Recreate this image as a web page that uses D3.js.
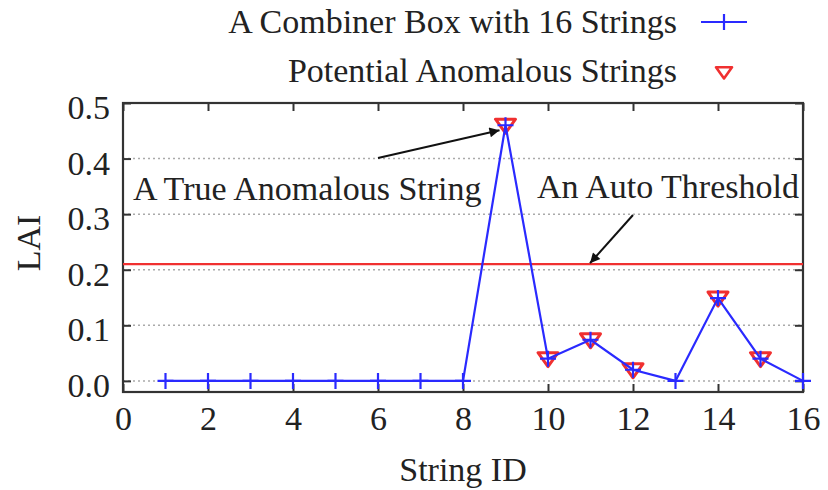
<!DOCTYPE html>
<html>
<head>
<meta charset="utf-8">
<script src="https://cdn.jsdelivr.net/npm/d3@7"></script>
<style>
  html, body { margin: 0; padding: 0; background: #fff; }
  svg { display: block; font-family: "Liberation Serif", "DejaVu Serif", serif; }
</style>
</head>
<body>
<svg id="chart" width="828" height="490"></svg>
<script>
// String IDs and their LAI values for one combiner box
const stringIds = [1, 2, 3, 4, 5, 6, 7, 8, 9, 10, 11, 12, 13, 14, 15, 16];
const laiValues = [0, 0, 0, 0, 0, 0, 0, 0, 0.46, 0.04, 0.074, 0.02, 0.0, 0.149, 0.04, 0.0];
// Strings flagged as potentially anomalous
const anomalousIds = [9, 10, 11, 12, 14, 15];
// Automatically derived threshold
const autoThreshold = 0.21;
// Axis ticks
const xTicks = [0, 2, 4, 6, 8, 10, 12, 14, 16];
const yTicks = [0.0, 0.1, 0.2, 0.3, 0.4, 0.5];

const svg = d3.select("#chart");
const plotLeft = 123, plotRight = 803, plotTop = 103, plotBottom = 392;

const x = d3.scaleLinear().domain([0, 16]).range([plotLeft, plotRight]);
const y = d3.scaleLinear().domain([-0.02, 0.5]).range([plotBottom, plotTop]);

const textColor = "#222";
const fontSize = 34;
const blue = "#2a2aff", red = "#f03030";

// Horizontal dotted grid
svg.append("g").selectAll("line").data(yTicks).join("line")
  .attr("x1", plotLeft).attr("x2", plotRight)
  .attr("y1", d => y(d)).attr("y2", d => y(d))
  .attr("stroke", "#aaa").attr("stroke-width", 1.5)
  .attr("stroke-dasharray", "2,3");

// Axes with inward ticks on all four sides
const tickLen = 8;
const axB = svg.append("g").attr("transform", `translate(0,${plotBottom})`)
  .call(d3.axisBottom(x).tickValues(xTicks).tickSize(-tickLen).tickPadding(14).tickFormat(d3.format("d")));
const axT = svg.append("g").attr("transform", `translate(0,${plotTop})`)
  .call(d3.axisTop(x).tickValues(xTicks).tickSize(-tickLen).tickFormat(""));
const axL = svg.append("g").attr("transform", `translate(${plotLeft},0)`)
  .call(d3.axisLeft(y).tickValues(yTicks).tickSize(-tickLen).tickPadding(13).tickFormat(d3.format(".1f")));
const axR = svg.append("g").attr("transform", `translate(${plotRight},0)`)
  .call(d3.axisRight(y).tickValues(yTicks).tickSize(-tickLen).tickFormat(""));

[axB, axT, axL, axR].forEach(g => {
  g.select(".domain").remove();
  g.selectAll(".tick line").attr("stroke", "#333").attr("stroke-width", 2);
  g.selectAll(".tick text")
    .attr("font-family", "Liberation Serif, serif")
    .attr("font-size", fontSize).attr("fill", textColor);
});
axL.selectAll(".tick text").attr("dy", "0.46em");
axB.selectAll(".tick text").attr("dy", "0.71em");

// Frame
svg.append("rect")
  .attr("x", plotLeft).attr("y", plotTop)
  .attr("width", plotRight - plotLeft).attr("height", plotBottom - plotTop)
  .attr("fill", "none").attr("stroke", "#333").attr("stroke-width", 2.2);

// Threshold line
svg.append("line")
  .attr("x1", plotLeft).attr("x2", plotRight)
  .attr("y1", y(autoThreshold)).attr("y2", y(autoThreshold))
  .attr("stroke", red).attr("stroke-width", 2.2);

// Series data
const points = stringIds.map((id, i) => ({ id, v: laiValues[i] }));
const anomalous = points.filter(p => anomalousIds.includes(p.id));

// Red open down-triangle markers
const tri = (cx, cy, s) => `M${cx - s},${cy - s * 0.6}L${cx + s},${cy - s * 0.6}L${cx},${cy + s * 0.8}Z`;
svg.append("g").selectAll("path").data(anomalous).join("path")
  .attr("d", d => tri(x(d.id), y(d.v), 10))
  .attr("fill", "none").attr("stroke", red).attr("stroke-width", 3)
  .attr("stroke-linejoin", "round");

// Blue line
svg.append("path").datum(points)
  .attr("d", d3.line().x(d => x(d.id)).y(d => y(d.v)))
  .attr("fill", "none").attr("stroke", blue).attr("stroke-width", 2.2);

// Blue plus markers
const plus = (cx, cy, s) => `M${cx - s},${cy}L${cx + s},${cy}M${cx},${cy - s}L${cx},${cy + s}`;
svg.append("g").selectAll("path").data(points).join("path")
  .attr("d", d => plus(x(d.id), y(d.v), 8))
  .attr("fill", "none").attr("stroke", blue).attr("stroke-width", 2.2);

// Axis titles
svg.append("text")
  .attr("x", (plotLeft + plotRight) / 2).attr("y", 481)
  .attr("text-anchor", "middle")
  .attr("font-size", fontSize).attr("fill", textColor)
  .text("String ID");
svg.append("text")
  .attr("transform", `translate(40,243) rotate(-90)`)
  .attr("text-anchor", "middle")
  .attr("font-size", fontSize).attr("fill", textColor)
  .text("LAI");

// Legend
const legendX = 677, sampleX = 724;
svg.append("text").attr("x", legendX).attr("y", 33)
  .attr("text-anchor", "end").attr("font-size", fontSize).attr("fill", textColor)
  .text("A Combiner Box with 16 Strings");
svg.append("line").attr("x1", sampleX - 23).attr("x2", sampleX + 23)
  .attr("y1", 22).attr("y2", 22)
  .attr("stroke", blue).attr("stroke-width", 2.2);
svg.append("path").attr("d", plus(sampleX, 22, 8))
  .attr("stroke", blue).attr("stroke-width", 2.2);
svg.append("text").attr("x", legendX).attr("y", 82)
  .attr("text-anchor", "end").attr("font-size", fontSize).attr("fill", textColor)
  .text("Potential Anomalous Strings");
svg.append("path").attr("d", tri(sampleX, 72, 8))
  .attr("fill", "none").attr("stroke", red).attr("stroke-width", 2.6)
  .attr("stroke-linejoin", "round");

// Annotations with arrows
svg.append("defs").append("marker")
  .attr("id", "arrowhead").attr("viewBox", "0 0 10 10")
  .attr("refX", 10).attr("refY", 5)
  .attr("markerWidth", 22).attr("markerHeight", 10)
  .attr("markerUnits", "userSpaceOnUse")
  .attr("orient", "auto")
  .append("path").attr("d", "M0,0L10,5L0,10Z").attr("fill", "#111");

svg.append("text").attr("x", 133).attr("y", 200)
  .attr("font-size", fontSize).attr("fill", textColor)
  .text("A True Anomalous String");
svg.append("line")
  .attr("x1", 378).attr("y1", 158)
  .attr("x2", x(9) - 6).attr("y2", y(0.46) + 5)
  .attr("stroke", "#111").attr("stroke-width", 2)
  .attr("marker-end", "url(#arrowhead)");

svg.append("text").attr("x", 537).attr("y", 198)
  .attr("font-size", fontSize).attr("fill", textColor)
  .text("An Auto Threshold");
svg.append("line")
  .attr("x1", 633).attr("y1", 215)
  .attr("x2", 590).attr("y2", y(autoThreshold) - 1)
  .attr("stroke", "#111").attr("stroke-width", 2)
  .attr("marker-end", "url(#arrowhead)");
</script>
</body>
</html>
